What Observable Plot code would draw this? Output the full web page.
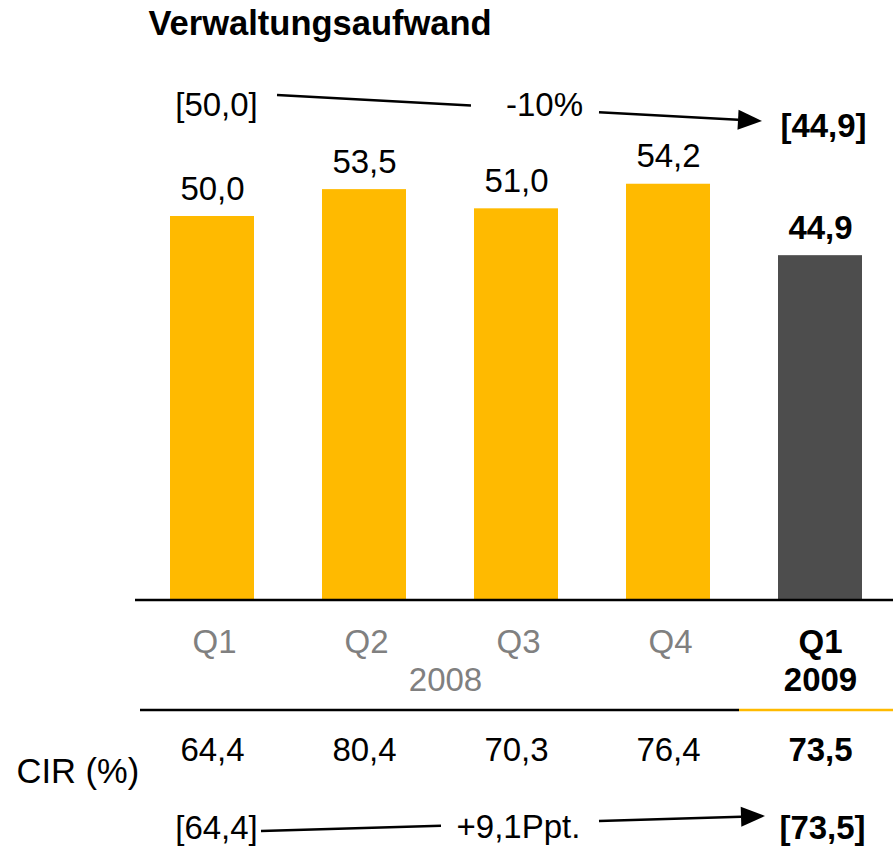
<!DOCTYPE html>
<html><head><meta charset="utf-8">
<script src="https://cdn.jsdelivr.net/npm/d3@7"></script>
<script src="https://cdn.jsdelivr.net/npm/@observablehq/plot@0.6"></script>
<style>body{margin:0;background:#fff} svg{display:block}</style>
</head><body><div id="chart"></div>
<script>
// ---- data ----
const keys = ["Q1 2008", "Q2 2008", "Q3 2008", "Q4 2008", "Q1 2009"];
const quarters = ["Q1", "Q2", "Q3", "Q4", "Q1"];
const years = ["2008", "2008", "2008", "2008", "2009"];
const aufwand = [50.0, 53.5, 51.0, 54.2, 44.9];
const cir = [64.4, 80.4, 70.3, 76.4, 73.5];
const highlight = [false, false, false, false, true];
const titleText = "Verwaltungsaufwand";
const cirLabel = "CIR (%)";
const changeAufwand = "-10%";
const changeCir = "+9,1Ppt.";

const fmt = v => d3.format(".1f")(v).replace(".", ",");
const rows = keys.map((k, i) => ({key: k, q: quarters[i], year: years[i], value: aufwand[i], cir: cir[i], hl: highlight[i]}));
const normal = rows.filter(d => !d.hl), bold = rows.filter(d => d.hl);
const first = rows[0], last = rows[rows.length - 1];
const FONT = "'Liberation Sans', Arial, Helvetica, sans-serif";
const Y0 = () => 0;
const YELLOW = "#ffba00", DARK = "#4d4d4d", GREY = "#808080";

const plot = Plot.plot({
  width: 893, height: 855,
  marginLeft: 140, marginRight: 0, marginTop: 0, marginBottom: 255,
  style: {fontFamily: FONT, fontSize: "33px", background: "#fff", overflow: "visible"},
  x: {domain: keys, paddingInner: 0.447, paddingOuter: 0.2, axis: null},
  y: {domain: [0, 600 / 7.68], axis: null},
  marks: [
    Plot.barY(normal, {x: "key", y: "value", fill: YELLOW}),
    Plot.barY(bold, {x: "key", y: "value", fill: DARK}),
    // value labels
    Plot.text(normal, {x: "key", y: "value", text: d => fmt(d.value), lineAnchor: "bottom", dy: -17, fill: "#000"}),
    Plot.text(bold, {x: "key", y: "value", text: d => fmt(d.value), lineAnchor: "bottom", dy: -17, fill: "#000", fontWeight: "bold"}),
    // category labels
    Plot.text(normal, {x: "key", y: Y0, text: "q", lineAnchor: "bottom", dy: 52, dx: 2, fill: GREY}),
    Plot.text([normal[1]], {x: "key", y: Y0, text: "year", lineAnchor: "bottom", dy: 90, dx: 81, fill: GREY}),
    Plot.text(bold, {x: "key", y: Y0, text: "q", lineAnchor: "bottom", dy: 52, fill: "#000", fontWeight: "bold"}),
    Plot.text(bold, {x: "key", y: Y0, text: "year", lineAnchor: "bottom", dy: 90, fill: "#000", fontWeight: "bold"}),
    // CIR row
    Plot.text(normal, {x: "key", y: Y0, text: d => fmt(d.cir), lineAnchor: "bottom", dy: 160, fill: "#000"}),
    Plot.text(bold, {x: "key", y: Y0, text: d => fmt(d.cir), lineAnchor: "bottom", dy: 160, fill: "#000", fontWeight: "bold"}),
    Plot.text([first], {x: "key", y: Y0, text: () => cirLabel, textAnchor: "start", lineAnchor: "bottom", dx: -196, dy: 182, fill: "#000", fontSize: 34.5}),
    // title
    Plot.text([first], {x: "key", y: Y0, text: () => titleText, textAnchor: "start", lineAnchor: "bottom", dx: -64, dy: -566, fill: "#000", fontWeight: "bold", fontSize: 34.5}),
    // top comparison
    Plot.text([first], {x: "key", y: Y0, text: d => "[" + fmt(d.value) + "]", lineAnchor: "bottom", dx: 4, dy: -485, fill: "#000"}),
    Plot.text([rows[2]], {x: "key", y: Y0, text: () => changeAufwand, lineAnchor: "bottom", dx: 28, dy: -485, fill: "#000"}),
    Plot.text([last], {x: "key", y: Y0, text: d => "[" + fmt(d.value) + "]", lineAnchor: "bottom", dx: 3, dy: -464, fill: "#000", fontWeight: "bold"}),
    // bottom comparison
    Plot.text([first], {x: "key", y: Y0, text: d => "[" + fmt(d.cir) + "]", lineAnchor: "bottom", dx: 4, dy: 238, fill: "#000"}),
    Plot.text([rows[2]], {x: "key", y: Y0, text: () => changeCir, lineAnchor: "bottom", dx: 2, dy: 237, fill: "#000"}),
    Plot.text([last], {x: "key", y: Y0, text: d => "[" + fmt(d.cir) + "]", lineAnchor: "bottom", dx: 2, dy: 238, fill: "#000", fontWeight: "bold"})
  ]
});

// ---- rules and arrows, positioned from the plot's own scales ----
const xs = plot.scale("x"), ys = plot.scale("y");
const cx = k => xs.apply(k) + xs.bandwidth / 2;
const base = ys.apply(0);
const svg = d3.select(plot);
const g = svg.append("g");

g.append("line").attr("x1", 135).attr("x2", 893).attr("y1", base).attr("y2", base)
  .attr("stroke", "#000").attr("stroke-width", 2.5);
const split = (xs.apply(keys[3]) + xs.bandwidth + xs.apply(keys[4])) / 2 - 5;
g.append("line").attr("x1", 140).attr("x2", split).attr("y1", base + 110).attr("y2", base + 110)
  .attr("stroke", "#000").attr("stroke-width", 2.5);
g.append("line").attr("x1", split).attr("x2", 893).attr("y1", base + 110).attr("y2", base + 110)
  .attr("stroke", YELLOW).attr("stroke-width", 2.5);

function arrow(p0, p1, gap0, gap1) {
  const at = x => [x, p0[1] + (p1[1] - p0[1]) * (x - p0[0]) / (p1[0] - p0[0])];
  const a = at(gap0), b = at(gap1);
  g.append("line").attr("x1", p0[0]).attr("y1", p0[1]).attr("x2", a[0]).attr("y2", a[1])
    .attr("stroke", "#000").attr("stroke-width", 2.5);
  const ang = Math.atan2(p1[1] - b[1], p1[0] - b[0]);
  const L = 24, W = 10;
  const hb = [p1[0] - L * Math.cos(ang), p1[1] - L * Math.sin(ang)];
  g.append("line").attr("x1", b[0]).attr("y1", b[1]).attr("x2", hb[0]).attr("y2", hb[1])
    .attr("stroke", "#000").attr("stroke-width", 2.5);
  const pts = [p1, [hb[0] - W * Math.sin(ang), hb[1] + W * Math.cos(ang)], [hb[0] + W * Math.sin(ang), hb[1] - W * Math.cos(ang)]];
  g.append("path").attr("d", "M" + pts.map(p => p.join(",")).join("L") + "Z").attr("fill", "#000");
}
arrow([cx(keys[0]) + 65, base - 505], [cx(keys[4]) - 58, base - 479], cx(keys[2]) - 45, cx(keys[2]) + 83);
arrow([cx(keys[0]) + 49, base + 231], [cx(keys[4]) - 55, base + 216], cx(keys[2]) - 75, cx(keys[2]) + 83);

document.getElementById("chart").appendChild(plot);
</script>
</body></html>
